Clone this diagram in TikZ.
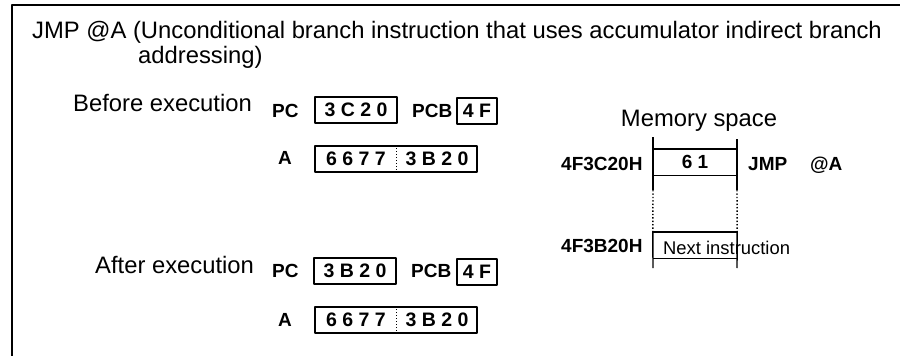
\documentclass[tikz,border=0pt]{standalone}
\usepackage{fontspec}
\setmainfont{Liberation Sans}
\usetikzlibrary{positioning}

\newcommand{\BigSize}{\fontsize{23.8}{25}\selectfont}
\newcommand{\TagSize}{\fontsize{19}{20}\selectfont\bfseries}
\newcommand{\DigSize}{\fontsize{19.5}{20}\selectfont\bfseries}
\newcommand{\NoteSize}{\fontsize{18.4}{19}\selectfont}
\newcommand{\Edge}{1.4pt}

\begin{document}
\begin{tikzpicture}[x=1pt,y=-1pt, line join=round,
  heading/.style={font=\BigSize, inner sep=0, anchor=base west},
  tag/.style={font=\TagSize, inner sep=0, anchor=base west},
  regbox/.style={draw, line width=\Edge, font=\DigSize, minimum height=26, inner sep=0},
  memcell/.style={font=\TagSize, minimum width=84, minimum height=26, inner sep=0},
  memline/.style={line width=\Edge}]

  \useasboundingbox (0,0) rectangle (900,356);

  % ---- frame ------------------------------------------------------------
  \draw[line width=2.2pt] (12,356) -- (12,5) -- (900,5);

  % ---- heading ----------------------------------------------------------
  \node[heading] (title) at (32,38) {JMP @A (Unconditional branch instruction that uses accumulator indirect branch};
  \node[heading] (titlecont) at (138,63) {addressing)};

  % ---- before execution -------------------------------------------------
  \node[heading] (before) at (73,111) {Before execution};
  \node[tag] (pcone) at (272,117) {PC};
  \node[regbox, minimum width=82] (pcvalone) at (356,110) {3 C 2 0};
  \node[tag] (pcbone) at (412,117) {PCB};
  \node[regbox, minimum width=40] (pcbvalone) at (477,111) {4 F};
  \node[tag] (aone) at (278,164) {A};
  \node[regbox, minimum width=162] (avalone) at (396,159) {};
  \node[font=\DigSize, inner sep=0] (ahione) at (356,159) {6 6 7 7};
  \node[font=\DigSize, inner sep=0] (aloone) at (437,159) {3 B 2 0};
  \draw[dotted, line width=1pt] (avalone.north) -- (avalone.south);

  % ---- after execution --------------------------------------------------
  \node[heading] (after) at (95,273) {After execution};
  \node[tag] (pctwo) at (272,277) {PC};
  \node[regbox, minimum width=82] (pcvaltwo) at (355,271) {3 B 2 0};
  \node[tag] (pcbtwo) at (411,277) {PCB};
  \node[regbox, minimum width=40] (pcbvaltwo) at (477,272) {4 F};
  \node[tag] (atwo) at (278,326) {A};
  \node[regbox, minimum width=162] (avaltwo) at (396,320) {};
  \node[font=\DigSize, inner sep=0] (ahitwo) at (356,320) {6 6 7 7};
  \node[font=\DigSize, inner sep=0] (alotwo) at (437,320) {3 B 2 0};
  \draw[dotted, line width=1pt] (avaltwo.north) -- (avaltwo.south);

  % ---- memory space -----------------------------------------------------
  \node[heading, anchor=base] (memtitle) at (699,126) {Memory space};
  \node[memcell] (cellop) at (695,162) {6 1};
  \node[memcell] (cellnext) at (695,245) {};
  \node[tag] (addrop) at (561,170) {4F3C20H};
  \node[tag] (mnem) at (748,170) {JMP};
  \node[tag] (oper) at (810,170) {@A};
  \node[tag] (addrnext) at (561,252) {4F3B20H};
  \node[font=\NoteSize, inner sep=0, anchor=base west] (nextlab) at (663,254) {Next instruction};

  \coordinate (ltop) at (653,137);
  \coordinate (lgap) at (653,190);
  \coordinate (lend) at (653,268);
  \coordinate (rtop) at (737,139);
  \coordinate (rgap) at (737,190);
  \coordinate (rend) at (737,268);

  \draw[memline] (ltop) -- (lgap);
  \draw[memline, dotted] (lgap) -- (cellnext.north west);
  \draw[memline] (cellnext.north west) -- (lend);
  \draw[memline] (rtop) -- (rgap);
  \draw[memline, dotted] (rgap) -- (cellnext.north east);
  \draw[memline] (cellnext.north east) -- (rend);
  \foreach \c in {cellop,cellnext} {
    \draw[memline] (\c.north west) -- (\c.north east);
    \draw[memline] (\c.south west) -- (\c.south east);
  }

\end{tikzpicture}
\end{document}
